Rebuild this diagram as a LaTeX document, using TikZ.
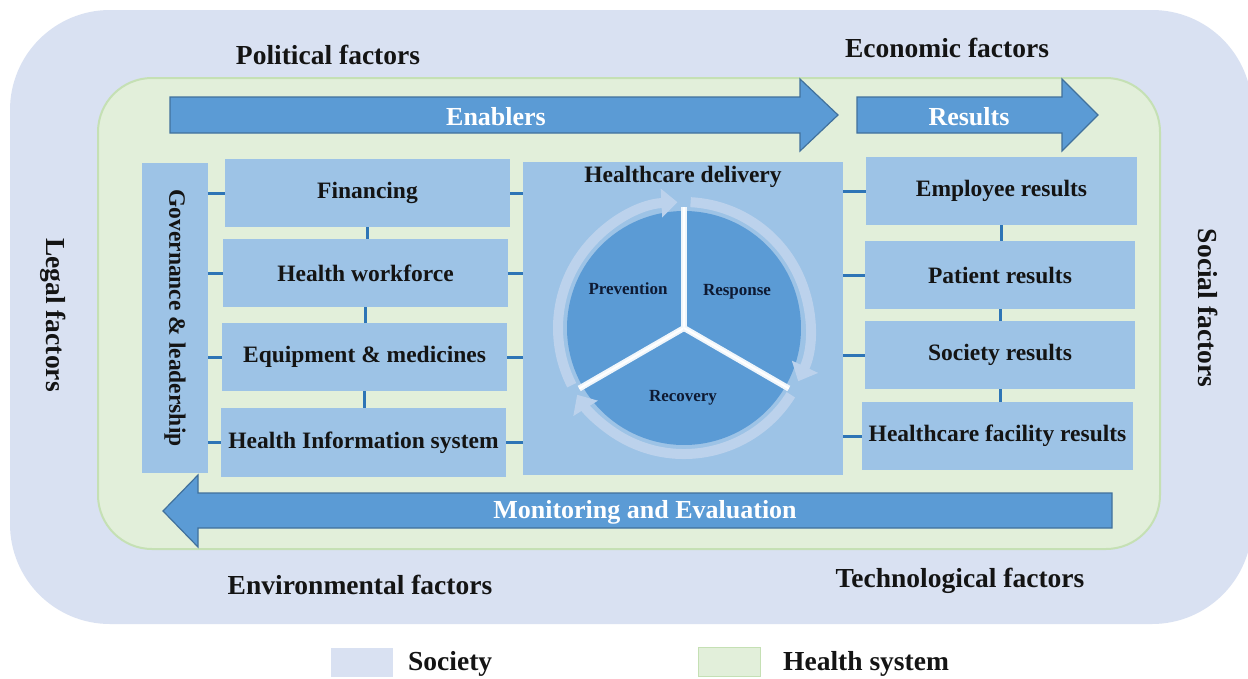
\documentclass[tikz,border=0pt]{standalone}
\usepackage{fontspec}
\setmainfont{Liberation Serif}
\usetikzlibrary{arrows.meta,calc}
\definecolor{society}{HTML}{D9E1F2}
\definecolor{healthsys}{HTML}{E2EFDA}
\definecolor{healthline}{HTML}{C5E0B4}
\definecolor{boxblue}{HTML}{9DC3E6}
\definecolor{arrowblue}{HTML}{5B9BD5}
\definecolor{arrowline}{HTML}{41719C}
\definecolor{linkblue}{HTML}{2E75B6}
\definecolor{ringblue}{HTML}{BCD2EC}
\definecolor{inktext}{HTML}{141414}
\definecolor{navytext}{HTML}{0E1A33}
\begin{document}
\begin{tikzpicture}[x=1pt,y=-1pt,
  factor/.style={font=\fontsize{27.5}{30}\selectfont\bfseries, text=inktext, inner sep=0pt},
  block/.style={fill=boxblue, inner sep=0pt, font=\fontsize{23.5}{26}\selectfont\bfseries, text=inktext},
  link/.style={draw=linkblue, line width=3pt},
  bigarrow/.style={fill=arrowblue, draw=arrowline, line width=1.2pt, line join=miter},
  arrowlabel/.style={text=white, font=\fontsize{26}{28}\selectfont\bfseries, inner sep=0pt},
  sectorlabel/.style={text=navytext, font=\fontsize{17}{19}\selectfont\bfseries, inner sep=0pt},
  ringarrow/.style={draw=ringblue, line width=10pt, -{Triangle[length=16pt,width=28pt]}},
  swatch/.style={minimum width=62pt, minimum height=29pt, inner sep=0pt}
]
\useasboundingbox (0,0) rectangle (1248,678);
\fill[white] (0,0) rectangle (1248,678);

% society and health system areas
\fill[society, rounded corners=100pt] (10,10) rectangle (1252,624);
\filldraw[fill=healthsys, draw=healthline, line width=2pt, rounded corners=54pt] (98,78) rectangle (1160,549);

% enablers / results / monitoring arrows
\filldraw[bigarrow] (170,97) -- (800,97) -- (800,79) -- (838,115) -- (800,151) -- (800,133) -- (170,133) -- cycle;
\filldraw[bigarrow] (857,97) -- (1062,97) -- (1062,79) -- (1098,115) -- (1062,151) -- (1062,133) -- (857,133) -- cycle;
\filldraw[bigarrow] (1112,493) -- (198,493) -- (198,475) -- (163,511) -- (198,547) -- (198,528) -- (1112,528) -- cycle;
\node[arrowlabel] (enab) at (496,117) {Enablers};
\node[arrowlabel] (res) at (969,117) {Results};
\node[arrowlabel] (mon) at (645,512) {Monitoring and Evaluation};

% environment factors
\node[factor] (pol) at (328,55) {Political factors};
\node[factor] (eco) at (947,48) {Economic factors};
\node[factor] (env) at (360,585) {Environmental factors};
\node[factor] (tec) at (960,581) {Technological factors};
\node[factor, rotate=-90] (leg) at (53,315) {Legal factors};
\node[factor, rotate=-90] (soc) at (1208,308) {Social factors};

% governance column
\node[block, minimum width=66pt, minimum height=310pt] (gov) at (175,318) {};
\node[block, fill=none, rotate=-90] (govtxt) at (gov.center) {Governance \& leadership};

% enabler blocks
\node[block, minimum width=285pt, minimum height=68pt] (fin) at (367.5,193) {Financing};
\node[block, minimum width=285pt, minimum height=68pt] (hw)  at (365.5,273) {Health workforce};
\node[block, minimum width=285pt, minimum height=68pt] (eq)  at (364.5,357) {Equipment \& medicines};
\node[block, minimum width=285pt, minimum height=69pt] (his) at (363.5,442.5) {Health Information system};

% healthcare delivery
\node[block, minimum width=320pt, minimum height=313pt] (hcd) at (683,318.5) {};
\node[block, fill=none] (hcdtitle) at (683,177) {Healthcare delivery};

% result blocks
\node[block, minimum width=271pt, minimum height=68pt] (emp) at (1001.5,191) {Employee results};
\node[block, minimum width=270pt, minimum height=68pt] (pat) at (1000,275) {Patient results};
\node[block, minimum width=270pt, minimum height=68pt] (sres) at (1000,355) {Society results};
\node[block, minimum width=271pt, minimum height=68pt] (hfr) at (997.5,436) {Healthcare facility results};

% links
\foreach \b in {fin,hw,eq,his}{
  \draw[link] (\b.west) -- (\b.west -| gov.east);
  \draw[link] (\b.east) -- (\b.east -| hcd.west);
}
\foreach \b in {emp,pat,sres,hfr}{
  \draw[link] (\b.west) -- (\b.west -| hcd.east);
}
\draw[link] (fin.south) -- (fin.south |- hw.north);
\draw[link] (hw.south) -- (hw.south |- eq.north);
\draw[link] (eq.south) -- (eq.south |- his.north);
\draw[link] (emp.south) -- (emp.south |- pat.north);
\draw[link] (pat.south) -- (pat.south |- sres.north);
\draw[link] (sres.south) -- (sres.south |- hfr.north);

% delivery cycle
\begin{scope}[shift={(684,328)}, y=1pt]
  \fill[arrowblue] (0,0) -- (90:117) arc[start angle=90, end angle=210, radius=117] -- cycle;
  \fill[arrowblue] (0,0) -- (-30:117) arc[start angle=-30, end angle=90, radius=117] -- cycle;
  \fill[arrowblue] (0,0) -- (210:117) arc[start angle=210, end angle=330, radius=117] -- cycle;
  \foreach \a in {90,210,330}{
    \draw[white!85!boxblue, line width=6pt] (0,0) -- (\a:121);
    \draw[white, line width=2pt] (0,0) -- (\a:121);
  }
  \draw[ringarrow] (207:126) arc[start angle=207, end angle=93, radius=126];
  \draw[ringarrow] (87:126) arc[start angle=87, end angle=-25, radius=126];
  \draw[ringarrow] (-32:126) arc[start angle=-32, end angle=-148, radius=126];
\end{scope}
\node[sectorlabel] (prev) at (628,289) {Prevention};
\node[sectorlabel] (resp) at (737,292) {Response};
\node[sectorlabel] (reco) at (683,398) {Recovery};

% legend
\node[swatch, fill=society] (legsoc) at (362,662) {};
\node[factor, anchor=west] (legsoctxt) at (408,664) {Society};
\node[swatch, fill=healthsys, draw=healthline, line width=0.8pt] (leghs) at (729.5,662) {};
\node[factor, anchor=west] (leghstxt) at (783,664) {Health system};
\end{tikzpicture}
\end{document}
